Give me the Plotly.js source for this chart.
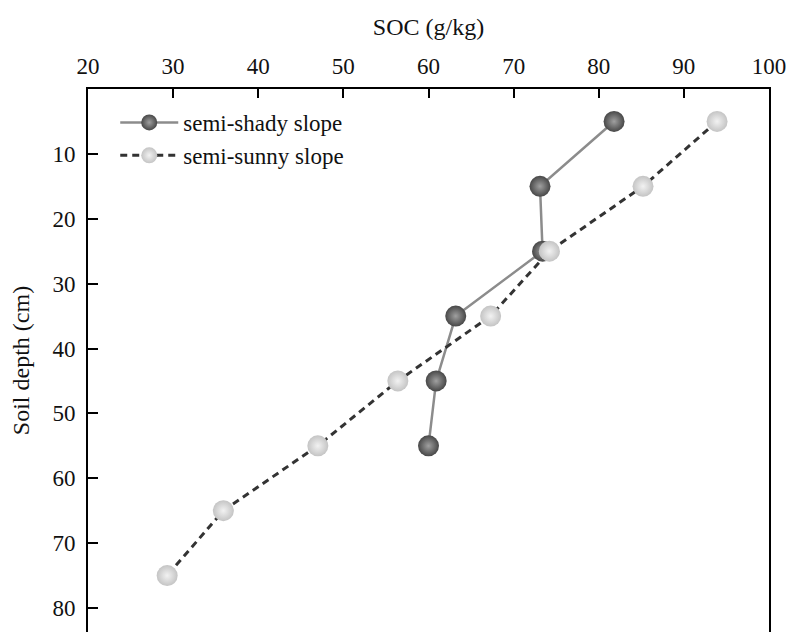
<!DOCTYPE html>
<html>
<head>
<meta charset="utf-8">
<script src="https://cdn.plot.ly/plotly-3.0.1.min.js"></script>
<style>html,body{margin:0;padding:0;overflow:hidden;background:#fff}#chart{width:788px;height:632px}</style>
</head>
<body>
<div id="chart"></div>
<script>
const depth = [5, 15, 25, 35, 45, 55, 65, 75];
const shadyDepth = [5, 15, 25, 35, 45, 55];
const shadySOC = [81.8, 73.1, 73.4, 63.2, 60.9, 60.0];
const sunnyDepth = depth;
const sunnySOC = [93.9, 85.2, 74.2, 67.3, 56.4, 47.0, 35.9, 29.3];
const xTicks = [20, 30, 40, 50, 60, 70, 80, 90, 100];
const yTicks = [10, 20, 30, 40, 50, 60, 70, 80];

const fam = 'Liberation Serif, Times New Roman, serif';

const traces = [
  {
    x: shadySOC, y: shadyDepth, name: 'semi-shady slope', type: 'scatter', mode: 'lines+markers',
    line: {color: '#8c8c8c', width: 2.5},
    marker: {size: 21, color: '#474747', line: {width: 0}, gradient: {type: 'radial', color: '#a0a0a0'}}
  },
  {
    x: sunnySOC, y: sunnyDepth, name: 'semi-sunny slope', type: 'scatter', mode: 'lines+markers',
    line: {color: '#333333', width: 3, dash: '7px,5px'},
    marker: {size: 21, color: '#c4c4c4', line: {width: 0}, gradient: {type: 'radial', color: '#f2f2f2'}}
  }
];

const layout = {
  width: 788, height: 632,
  margin: {l: 88, r: 19, t: 89, b: 0, pad: 0},
  paper_bgcolor: '#fff', plot_bgcolor: '#fff',
  font: {family: fam, color: '#111', size: 22},
  showlegend: true,
  legend: {x: 0.040, y: 0.978, xanchor: 'left', yanchor: 'top', bgcolor: 'rgba(0,0,0,0)',
           font: {family: fam, size: 23, color: '#111'}, itemwidth: 58},
  xaxis: {
    side: 'top', range: [20, 100], tickvals: xTicks, ticktext: xTicks.map(String),
    ticks: 'inside', ticklen: 9, tickwidth: 2, tickcolor: '#000',
    showline: true, linecolor: '#000', linewidth: 2, mirror: false,
    showgrid: false, zeroline: false, ticklabelstandoff: 4,
    tickfont: {family: fam, size: 23, color: '#111'},
    title: {text: 'SOC (g/kg)', font: {family: fam, size: 24, color: '#111'}, standoff: 11}
  },
  yaxis: {
    range: [83.7, 0], tickvals: yTicks, ticktext: yTicks.map(String),
    ticks: 'inside', ticklen: 10, tickwidth: 2, tickcolor: '#000',
    showline: true, linecolor: '#000', linewidth: 2, mirror: true,
    showgrid: false, zeroline: false, ticklabelstandoff: 6,
    tickfont: {family: fam, size: 23, color: '#111'},
    title: {text: 'Soil depth (cm)', font: {family: fam, size: 24, color: '#111'}, standoff: 16}
  }
};

Plotly.newPlot('chart', traces, layout, {displayModeBar: false, staticPlot: true});
</script>
</body>
</html>
